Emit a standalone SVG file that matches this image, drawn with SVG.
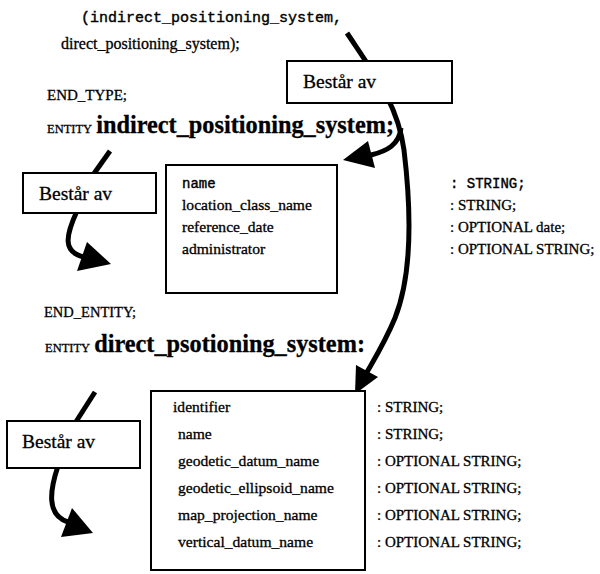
<svg xmlns="http://www.w3.org/2000/svg" width="600" height="574" viewBox="0 0 600 574">
  <style>
    .serif { font-family: "Liberation Serif", "Times New Roman", serif; fill: #000; stroke: #000; stroke-width: 0.3px; }
    .mono { font-family: "Liberation Mono", "Courier New", monospace; fill: #000; stroke: #000; stroke-width: 0.4px; }
    .box { fill: #fff; stroke: #000; stroke-width: 2; }
    .conn { fill: none; stroke: #000; stroke-width: 5; }
    .head { fill: #000; stroke: none; }
    .lbl { font-size: 19.5px; }
    .attr { font-size: 15.6px; }
    .type { font-size: 15px; }
    .kw { font-size: 12.5px; }
    .big { font-size: 24.3px; font-weight: bold; }
  </style>

  <!-- schema source text -->
  <g id="source-text">
    <text class="mono" x="81" y="22" font-size="15">(indirect_positioning_system,</text>
    <text class="serif" x="61" y="49" font-size="16">direct_positioning_system);</text>
    <text class="serif" x="47" y="100" font-size="15">END_TYPE;</text>
    <text class="serif" x="47" y="133"><tspan class="kw">ENTITY</tspan> <tspan class="big">indirect_positioning_system;</tspan></text>
    <text class="serif" x="44" y="317" font-size="14.5">END_ENTITY;</text>
    <text class="serif" x="45" y="352"><tspan class="kw">ENTITY</tspan> <tspan class="big" font-size="24.6px">direct_psotioning_system:</tspan></text>
  </g>

  <!-- connectors -->
  <g id="connectors">
    <!-- long arrow from the type list down to the direct entity -->
    <path class="conn" d="M347,33 C375,75 398,105 404,150 C410,200 414,270 395,318 C385,342 375,358 367,372"/>
    <polygon class="head" points="355,394 356,365 378,377"/>
    <!-- branch to the indirect entity -->
    <path class="conn" d="M401,128 C399,145 387,151 371,155"/>
    <polygon class="head" points="343,160 368,141 375,168"/>
    <!-- middle "Består av" arrow -->
    <path class="conn" d="M110,151 L88,182"/>
    <path class="conn" d="M77,211 C66,235 62,252 84,257"/>
    <polygon class="head" points="111,264 87,242 77,271"/>
    <!-- lower "Består av" arrow -->
    <path class="conn" d="M95,392 L72,428"/>
    <path class="conn" d="M58,466 C50,490 46,515 68,522"/>
    <polygon class="head" points="93,533 72,508 61,537"/>
  </g>

  <g id="consists-of-top">
    <rect class="box" x="287" y="61" width="165" height="42"/>
    <text class="serif lbl" x="303" y="88">Består av</text>
  </g>

  <g id="consists-of-middle">
    <rect class="box" x="23" y="173" width="133" height="40"/>
    <text class="serif lbl" x="39" y="200">Består av</text>
  </g>

  <g id="consists-of-bottom">
    <rect class="box" x="7" y="421" width="133" height="47"/>
    <text class="serif lbl" x="22" y="448">Består av</text>
  </g>

  <g id="indirect-attributes">
    <rect class="box" x="166" y="165" width="171" height="128"/>
    <text class="mono" x="182" y="188" font-size="14">name</text>
    <text class="serif attr" x="182" y="210">location_class_name</text>
    <text class="serif attr" x="182" y="232">reference_date</text>
    <text class="serif attr" x="182" y="254">administrator</text>
  </g>

  <g id="indirect-types">
    <text class="mono" x="450" y="188" font-size="14">: STRING;</text>
    <text class="serif type" x="450" y="210">: STRING;</text>
    <text class="serif type" x="450" y="232">: OPTIONAL date;</text>
    <text class="serif type" x="450" y="254">: OPTIONAL STRING;</text>
  </g>

  <g id="direct-attributes">
    <rect class="box" x="151" y="391" width="214" height="179"/>
    <text class="serif attr" x="173" y="412">identifier</text>
    <text class="serif attr" x="178" y="439">name</text>
    <text class="serif attr" x="178" y="466">geodetic_datum_name</text>
    <text class="serif attr" x="178" y="493">geodetic_ellipsoid_name</text>
    <text class="serif attr" x="178" y="520">map_projection_name</text>
    <text class="serif attr" x="178" y="547">vertical_datum_name</text>
  </g>

  <g id="direct-types">
    <text class="serif type" x="377" y="412">: STRING;</text>
    <text class="serif type" x="377" y="439">: STRING;</text>
    <text class="serif type" x="377" y="466">: OPTIONAL STRING;</text>
    <text class="serif type" x="377" y="493">: OPTIONAL STRING;</text>
    <text class="serif type" x="377" y="520">: OPTIONAL STRING;</text>
    <text class="serif type" x="377" y="547">: OPTIONAL STRING;</text>
  </g>
</svg>
